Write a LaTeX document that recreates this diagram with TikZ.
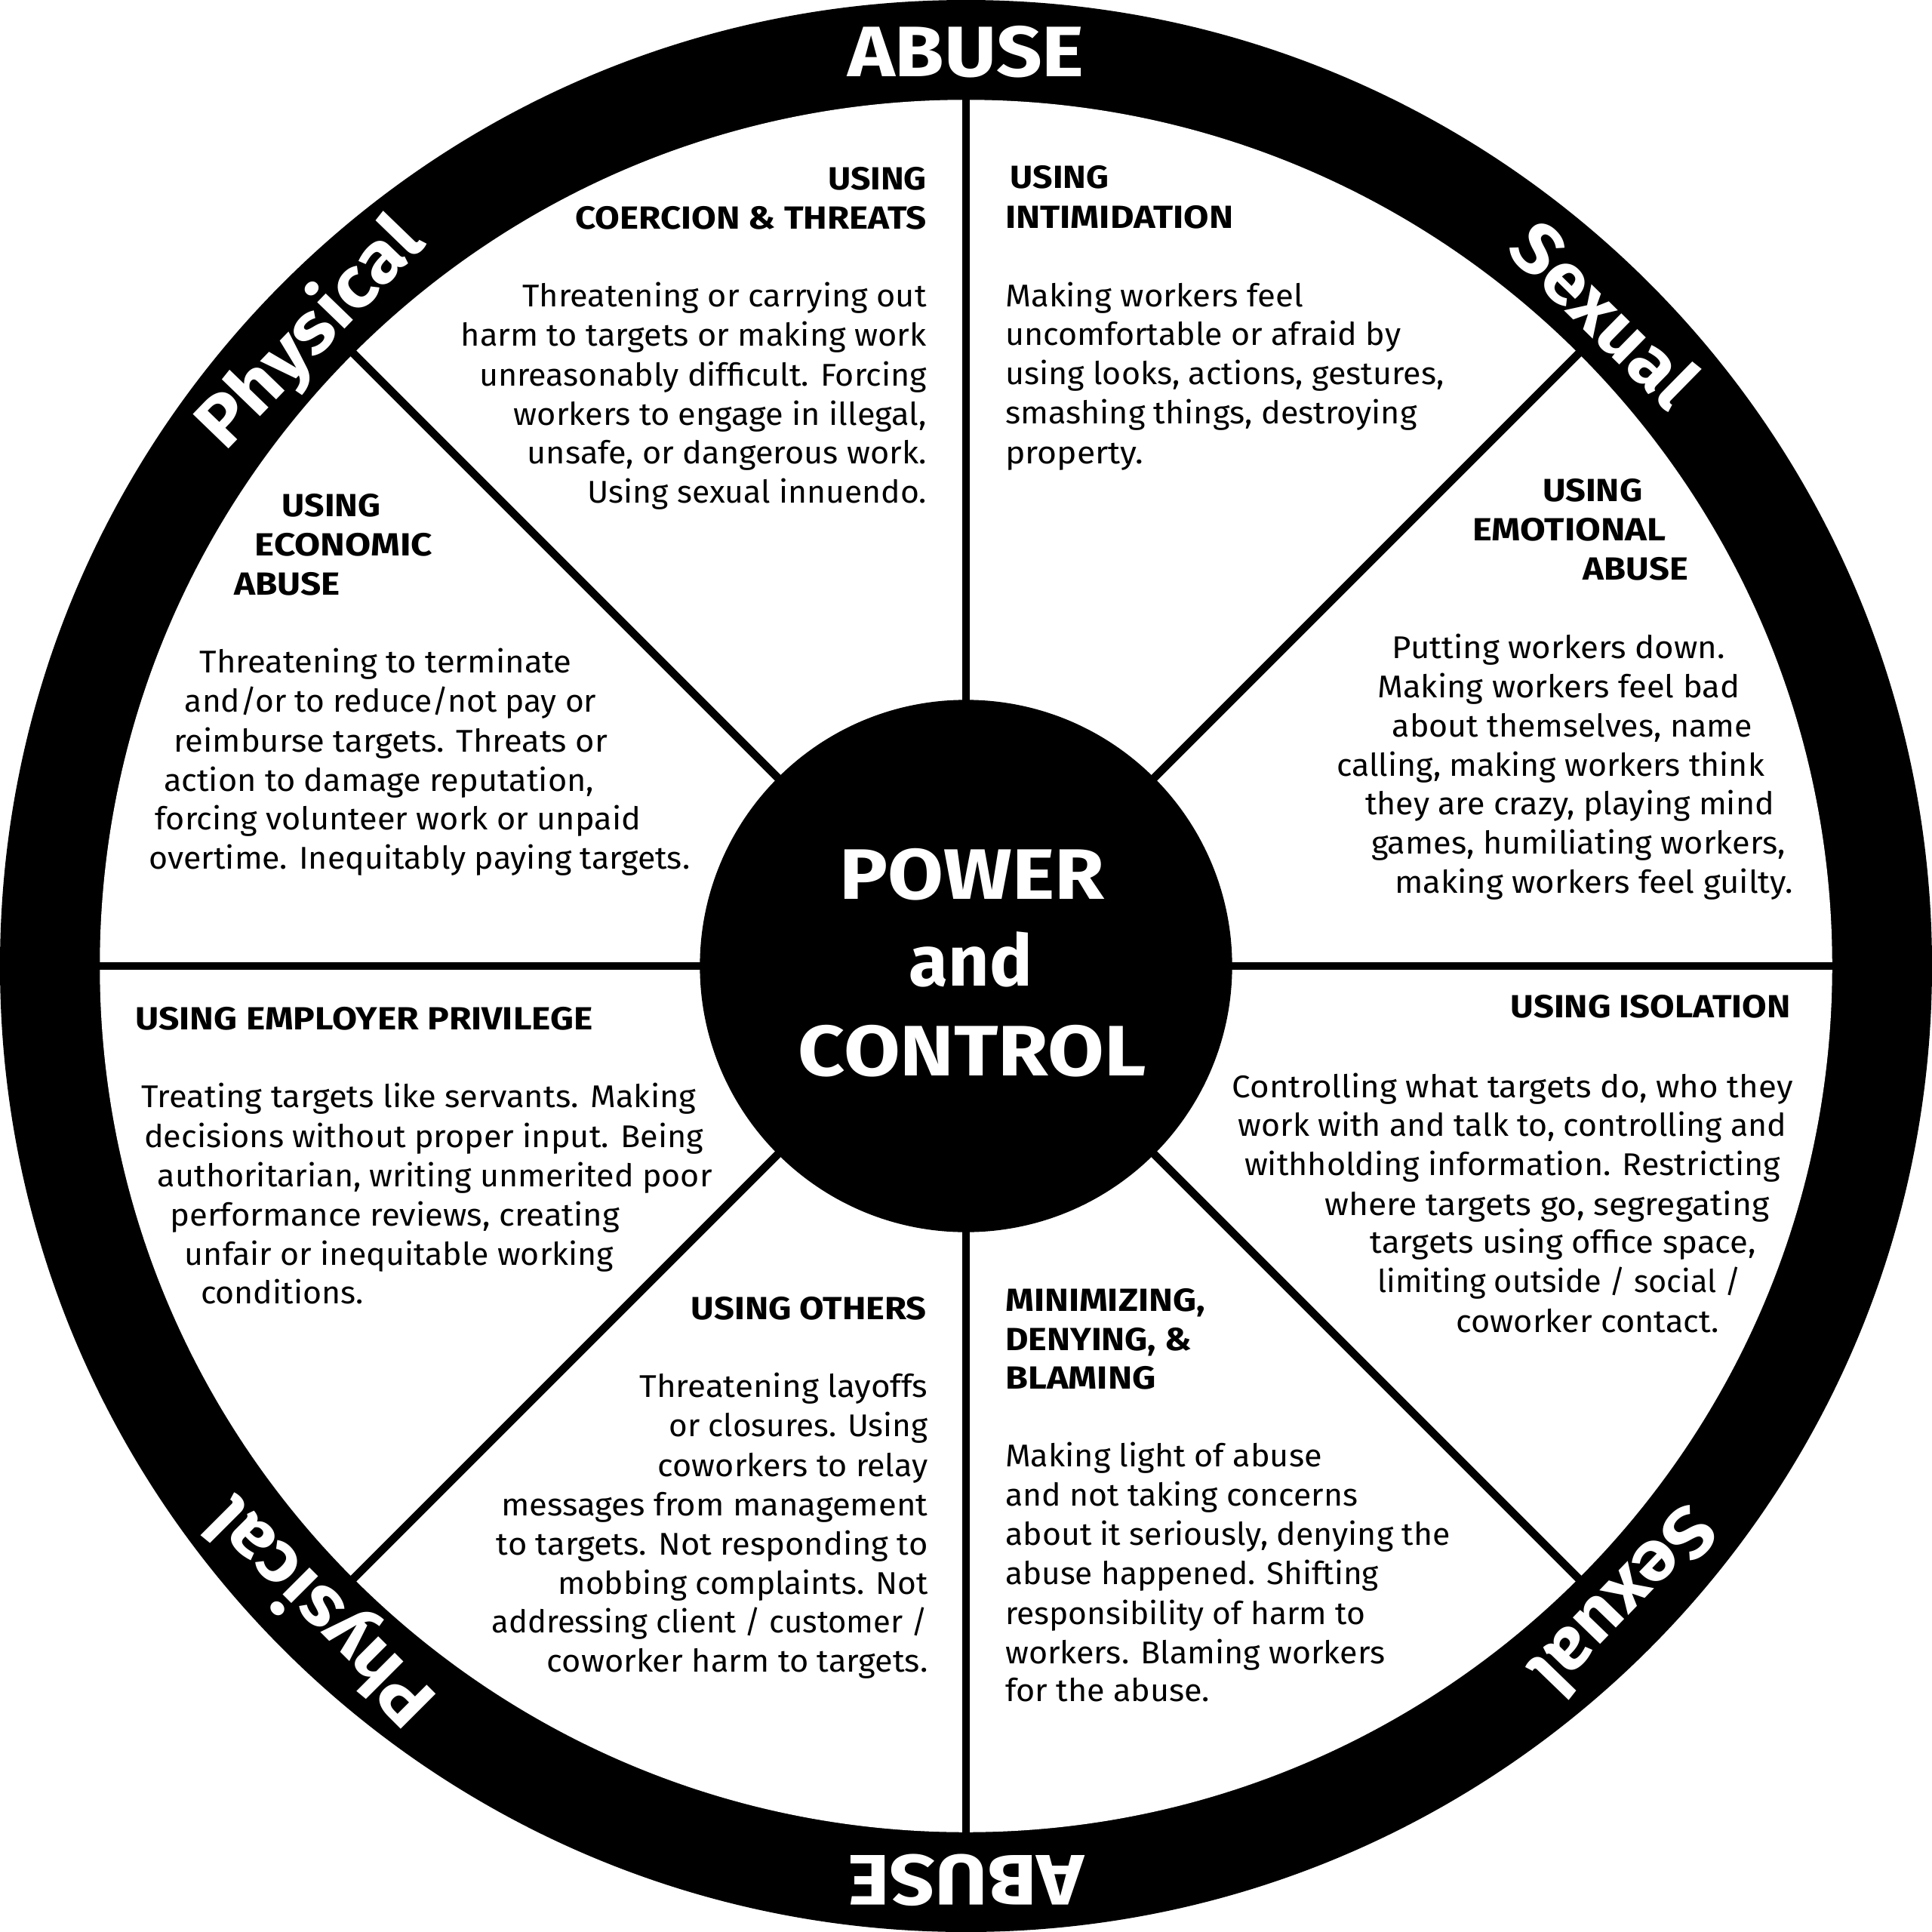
\documentclass[tikz,border=0pt]{standalone}
\usepackage{fontspec}
\usepackage{graphicx}
\setmainfont{Fira Sans}
\newcommand\TL[6]{\node[#1] (#2) at (#3,-#5) {\resizebox{#4pt}{\height}{#6}};}
\begin{document}
\begin{tikzpicture}[x=1pt,y=1pt,
  body/.style={inner sep=0pt, outer sep=0pt, font=\fontsize{25.5}{31}\selectfont, anchor=mid west, yshift=-6.5pt},
  head/.style={inner sep=0pt, outer sep=0pt, font=\bfseries\fontsize{26}{31}\selectfont, anchor=base west},
  ring/.style={inner sep=0pt, outer sep=0pt, text=white, font=\bfseries\fontsize{58}{64}\selectfont, anchor=base},
  hubtext/.style={inner sep=0pt, outer sep=0pt, text=white, font=\bfseries\fontsize{58}{64}\selectfont, anchor=base},
  spoke/.style={line width=6.5pt, black}]
\useasboundingbox (0,0) rectangle (1568,-1568);
\fill[white] (0,0) rectangle (1568,-1568);
\coordinate (c) at (784,-784);
\fill[black] (c) circle[radius=784];
\fill[white] (c) circle[radius=703];
\foreach \a in {0,45,...,315} {
  \coordinate (s\a) at ([shift={(\a:706)}]c);
  \draw[spoke] (c) -- (s\a);
}
\node[circle, fill=black, minimum size=432pt, inner sep=0pt] (hub) at (c) {};
% hub text
\node[hubtext] (power) at (789,-730) {\resizebox{215pt}{\height}{POWER}};
\node[hubtext] (and) at (788,-800) {\resizebox{100pt}{\height}{and}};
\node[hubtext] (control) at (789,-873) {\resizebox{282pt}{\height}{CONTROL}};
% ring text
\node[ring] (abusetop) at ([shift={(90:722)}]c) {\resizebox{192pt}{\height}{ABUSE}};
\node[ring, rotate=180] (abusebot) at ([shift={(-90:722)}]c) {\resizebox{192pt}{\height}{ABUSE}};
\node[ring, rotate=46] (phystop) at ([shift={(136:722)}]c) {\resizebox{235pt}{\height}{Physical}};
\node[ring, rotate=-44.5] (sextop) at ([shift={(45.6:720)}]c) {\resizebox{186pt}{\height}{Sexual}};
\node[ring, rotate=-134] (sexbot) at ([shift={(-44:722)}]c) {\resizebox{188pt}{\height}{Sexual}};
\node[ring, rotate=135] (physbot) at ([shift={(-135:722)}]c) {\resizebox{235pt}{\height}{Physical}};
% Sector A: coercion
\TL{head}{a1}{672}{80}{154}{USING}
\TL{head}{a2}{467}{285}{186}{COERCION \& THREATS}
\TL{body}{a3}{424}{328}{240}{Threatening or carrying out}
\TL{body}{a4}{374}{378}{272}{harm to targets or making work}
\TL{body}{a5}{389}{363}{304}{unreasonably difficult. Forcing}
\TL{body}{a6}{417}{335}{336}{workers to engage in illegal,}
\TL{body}{a7}{428}{324}{367}{unsafe, or dangerous work.}
\TL{body}{a8}{477}{275}{399}{Using sexual innuendo.}
% Sector B: intimidation
\TL{head}{b1}{820}{80}{153}{USING}
\TL{head}{b2}{816}{185}{185}{INTIMIDATION}
\TL{body}{b3}{816}{242}{240}{Making workers feel}
\TL{body}{b4}{816}{321}{271}{uncomfortable or afraid by}
\TL{body}{b5}{816}{356}{303}{using looks, actions, gestures,}
\TL{body}{b6}{816}{334}{335}{smashing things, destroying}
\TL{body}{b7}{816}{112}{367}{property.}
% Sector C: emotional
\TL{head}{c1}{1252}{81}{407}{USING}
\TL{head}{c2}{1195}{157}{439}{EMOTIONAL}
\TL{head}{c3}{1285}{85}{471}{ABUSE}
\TL{body}{c4}{1130}{270}{525}{Putting workers down.}
\TL{body}{c5}{1118}{294}{557}{Making workers feel bad}
\TL{body}{c6}{1130}{292}{589}{about themselves, name}
\TL{body}{c7}{1085}{347}{621}{calling, making workers think}
\TL{body}{c8}{1108}{332}{652}{they are crazy, playing mind}
\TL{body}{c9}{1113}{336}{684}{games, humiliating workers,}
\TL{body}{c10}{1132}{323}{716}{making workers feel guilty.}
% Sector D: isolation
\TL{head}{d1}{1226}{227}{826}{USING ISOLATION}
\TL{body}{d2}{1000}{455}{882}{Controlling what targets do, who they}
\TL{body}{d3}{1005}{445}{913}{work with and talk to, controlling and}
\TL{body}{d4}{1010}{435}{945}{withholding information. Restricting}
\TL{body}{d5}{1075}{361}{977}{where targets go, segregating}
\TL{body}{d6}{1112}{313}{1008}{targets using office space,}
\TL{body}{d7}{1118}{295}{1040}{limiting outside / social /}
\TL{body}{d8}{1182}{213}{1072}{coworker contact.}
% Sector E: minimizing
\TL{head}{e1}{816}{162}{1064}{MINIMIZING,}
\TL{head}{e2}{816}{151}{1096}{DENYING, \&}
\TL{head}{e3}{816}{122}{1127}{BLAMING}
\TL{body}{e4}{816}{257}{1181}{Making light of abuse}
\TL{body}{e5}{816}{286}{1213}{and not taking concerns}
\TL{body}{e6}{816}{361}{1245}{about it seriously, denying the}
\TL{body}{e7}{816}{303}{1277}{abuse happened. Shifting}
\TL{body}{e8}{816}{292}{1309}{responsibility of harm to}
\TL{body}{e9}{816}{308}{1341}{workers. Blaming workers}
\TL{body}{e10}{816}{166}{1372}{for the abuse.}
% Sector F: others
\TL{head}{f1}{561}{191}{1071}{USING OTHERS}
\TL{body}{f2}{519}{234}{1125}{Threatening layoffs}
\TL{body}{f3}{543}{210}{1157}{or closures. Using}
\TL{body}{f4}{534}{219}{1189}{coworkers to relay}
\TL{body}{f5}{407}{346}{1221}{messages from management}
\TL{body}{f6}{403}{350}{1253}{to targets. Not responding to}
\TL{body}{f7}{453}{300}{1285}{mobbing complaints. Not}
\TL{body}{f8}{399}{354}{1316}{addressing client / customer /}
\TL{body}{f9}{444}{309}{1348}{coworker harm to targets.}
% Sector G: privilege
\TL{head}{g1}{110}{371}{836}{USING EMPLOYER PRIVILEGE}
\TL{body}{g2}{115}{450}{890}{Treating targets like servants. Making}
\TL{body}{g3}{117}{454}{922}{decisions without proper input. Being}
\TL{body}{g4}{128}{450}{954}{authoritarian, writing unmerited poor}
\TL{body}{g5}{138}{365}{986}{performance reviews, creating}
\TL{body}{g6}{150}{348}{1018}{unfair or inequitable working}
\TL{body}{g7}{163}{132}{1049}{conditions.}
% Sector H: economic
\TL{head}{h1}{229}{80}{419}{USING}
\TL{head}{h2}{207}{144}{451}{ECONOMIC}
\TL{head}{h3}{190}{86}{483}{ABUSE}
\TL{body}{h4}{162}{302}{537}{Threatening to terminate}
\TL{body}{h5}{150}{334}{569}{and/or to reduce/not pay or}
\TL{body}{h6}{141}{352}{601}{reimburse targets. Threats or}
\TL{body}{h7}{133}{349}{633}{action to damage reputation,}
\TL{body}{h8}{126}{394}{664}{forcing volunteer work or unpaid}
\TL{body}{h9}{121}{439}{696}{overtime. Inequitably paying targets.}
\end{tikzpicture}
\end{document}
